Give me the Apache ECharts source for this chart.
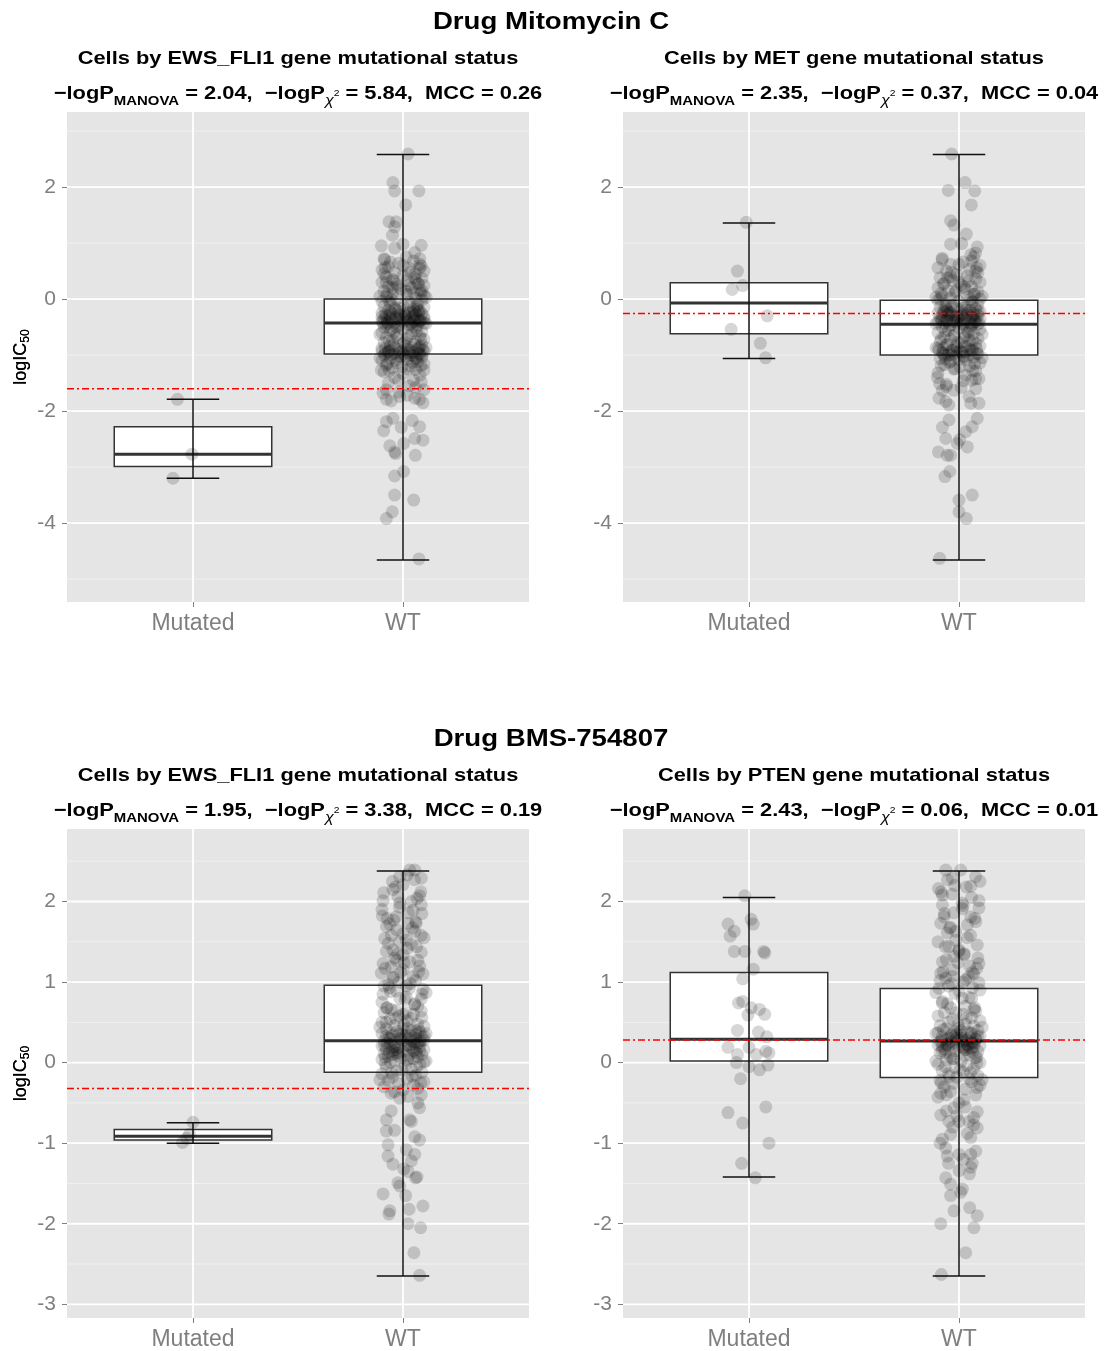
<!DOCTYPE html>
<html>
<head>
<meta charset="utf-8">
<script src="https://cdn.jsdelivr.net/npm/echarts@6/dist/echarts.min.js"></script>
<style>
html,body{margin:0;padding:0;background:#ffffff;}
#chart{width:1106px;height:1351px;}
</style>
</head>
<body>
<div id="chart"></div>
<script>
// ---------------- DATA ----------------
const categories = ['Mutated', 'WT'];
const drugTitles = ['Drug Mitomycin C', 'Drug BMS-754807'];
const panelGenes = ['EWS_FLI1', 'MET', 'EWS_FLI1', 'PTEN'];
const statManova = ['2.04', '2.35', '1.95', '2.43'];
const statChi = ['5.84', '0.37', '3.38', '0.06'];
const statMcc = ['0.26', '0.04', '0.19', '0.01'];

const yTicksTop = [-4, -2, 0, 2];
const yMinorTop = [-5, -3, -1, 1, 3];
const yTicksBottom = [-3, -2, -1, 0, 1, 2];
const yMinorBottom = [-2.5, -1.5, -0.5, 0.5, 1.5, 2.5];
const yRangeTop = [-5.41, 3.34];
const yRangeBottom = [-3.17, 2.90];

const refLines = [-1.60, -0.26, -0.32, 0.28];

// box stats per group: [min, q1, median, q3, max]  (Mutated, WT)
const boxTL = [[-3.20, -2.99, -2.77, -2.28, -1.79], [-4.66, -0.98, -0.43, 0.00, 2.58]];
const boxTR = [[-1.06, -0.62, -0.07, 0.29, 1.36], [-4.66, -1.00, -0.45, -0.02, 2.58]];
const boxBL = [[-1.00, -0.96, -0.915, -0.83, -0.745], [-2.65, -0.12, 0.27, 0.96, 2.38]];
const boxBR = [[-1.42, 0.02, 0.29, 1.12, 2.05], [-2.65, -0.185, 0.267, 0.92, 2.38]];

// points: [jitter offset, logIC50]
const ptsTLMut = [[-0.074, -1.79], [-0.005, -2.77], [-0.095, -3.20]];
const ptsTLWT = [
[0.024,2.59],[-0.048,2.08],[-0.04,1.93],[0.076,1.93],[0.013,1.68],[-0.067,1.38],[-0.032,1.38],[-0.04,1.29],[-0.05,1.14],[-0.103,0.95],
[0.0,0.98],[-0.04,0.91],[0.087,0.96],[0.056,0.83],[0.016,0.75],[-0.087,0.70],[0.087,0.59],[0.079,0.55],
[-0.09,0.72],[0.05,0.68],[-0.02,0.64],[0.08,0.62],[-0.07,0.58],[0.03,0.55],[-0.1,0.52],[0.1,0.5],[-0.04,0.47],[0.06,0.45],
[0.0,0.42],[-0.08,0.4],[0.09,0.37],[-0.05,0.35],[0.02,0.33],[-0.1,0.3],[0.07,0.28],[-0.03,0.26],[0.1,0.24],[-0.07,0.22],
[0.04,0.2],[-0.01,0.18],[0.08,0.16],[-0.09,0.14],[0.05,0.12],[-0.05,0.1],[0.02,0.08],[0.1,0.06],[-0.08,0.04],[0.06,0.02],
[-0.03,0.0],[0.09,-0.02],[-0.1,-0.04],[0.03,-0.06],[-0.06,-0.08],[0.07,-0.1],[0.0,-0.12],[-0.09,-0.13],[0.1,-0.15],[-0.04,-0.16],
[0.05,-0.18],[-0.07,-0.2],[0.08,-0.21],[-0.02,-0.22],[0.03,-0.24],[-0.1,-0.25],[0.09,-0.26],[-0.05,-0.27],[0.06,-0.28],[0.01,-0.29],
[-0.08,-0.3],[0.1,-0.31],[-0.03,-0.32],[0.04,-0.33],[-0.06,-0.34],[0.07,-0.35],[-0.09,-0.36],[0.02,-0.37],[0.08,-0.38],[-0.01,-0.39],
[-0.1,-0.4],[0.05,-0.41],[-0.04,-0.42],[0.1,-0.43],[-0.07,-0.44],[0.03,-0.46],[0.07,-0.47],[-0.02,-0.48],[-0.09,-0.5],[0.06,-0.52],
[0.0,-0.54],[-0.06,-0.56],[0.09,-0.58],[-0.1,-0.6],[0.04,-0.62],[-0.03,-0.64],[0.08,-0.66],[-0.08,-0.68],[0.02,-0.7],[0.1,-0.72],
[-0.05,-0.74],[0.06,-0.76],[-0.09,-0.78],[0.0,-0.8],[0.09,-0.82],[-0.06,-0.84],[0.04,-0.86],[-0.1,-0.88],[0.07,-0.9],[-0.02,-0.91],
[0.1,-0.93],[-0.07,-0.94],[0.03,-0.96],[-0.04,-0.97],[0.08,-0.98],[-0.09,-1.0],[0.05,-1.01],[-0.01,-1.03],[0.09,-1.04],[-0.06,-1.06],
[0.02,-1.08],[-0.1,-1.1],[0.07,-1.12],[-0.03,-1.14],[0.1,-1.16],[-0.08,-1.18],[0.04,-1.2],[-0.05,-1.23],[0.06,-1.26],[-0.09,-1.3],
[0.0,-1.33],[0.08,-1.36],[-0.04,-1.4],[0.05,-1.45],[-0.07,-1.5],[0.03,-1.55],[0.1,-1.62],[-0.02,-1.66],
[-0.06,-0.23],[0.05,-0.3],[-0.02,-0.35],[0.08,-0.4],[-0.08,-0.45],[0.01,-0.26],[0.1,-0.36],[-0.1,-0.32],[0.04,-0.44],[-0.05,-0.38],
[0.07,-0.19],[-0.03,-0.5],[0.02,-0.9],[-0.07,-0.95],[0.09,-1.0],[-0.04,-0.87],[0.06,-1.05],[-0.1,-0.93],[0.0,-0.98],[0.08,-0.85],
[-0.08,0.3],[0.06,0.35],[-0.05,0.2],[0.03,0.25],[-0.09,0.45],[0.09,0.15],
[-0.11,0.05],[0.085,0.1],[-0.065,-0.05],[0.035,-0.11],[-0.015,-0.17],[0.075,-0.23],[-0.085,-0.27],[0.015,-0.31],[-0.035,-0.36],[0.055,-0.39],
[-0.075,-0.41],[0.11,-0.44],[-0.005,-0.45],[0.045,-0.49],[-0.055,-0.53],[0.065,-0.57],[-0.11,-0.63],[0.025,-0.65],[-0.025,-0.69],[0.085,-0.71],
[-0.065,-0.75],[0.005,-0.77],[0.055,-0.81],[-0.045,-0.83],[0.11,-0.87],[-0.085,-0.89],[0.035,-0.92],[-0.015,-0.95],[0.075,-0.97],[-0.055,-0.99],
[0.015,-1.02],[-0.11,-1.05],[0.065,-1.07],[-0.035,-1.09],[0.045,-1.13],[-0.075,-1.15],[0.085,-1.19],[-0.005,-1.21],[0.025,-1.25],[-0.065,-1.28],
[0.055,0.38],[-0.045,0.32],[0.075,0.27],[-0.025,0.22],[0.015,0.14],[-0.075,0.09],[0.11,0.03],[-0.055,-0.01],[0.035,0.48],[-0.085,0.56],
[0.065,-0.13],[-0.035,-0.19],[0.045,-0.25],[-0.065,-0.29],[0.005,-0.33],[0.085,-0.37],[-0.095,-0.43],[0.025,-0.4],[-0.015,-0.28],[0.055,-0.21],
[-0.045,-0.6],[0.075,-0.88],[-0.005,-0.93],[0.035,-1.0],[-0.085,-0.97],[0.095,-0.91],[-0.025,-1.02],[0.015,-0.84],[-0.065,-0.92],[0.045,-0.95],
[0.0,0.6],[-0.06,0.66],[0.08,0.72],[-0.02,-1.45],[0.06,-1.58],[-0.08,-1.62],[0.02,-1.72],
[0.1,-1.27],[-0.103,-1.27],[0.087,-1.48],[-0.095,-1.68],[-0.079,-1.79],[-0.056,-1.82],[0.056,-1.77],[0.079,-1.79],[0.095,-1.85],[-0.016,-1.74],
[-0.048,-2.13],[-0.079,-2.19],[0.044,-2.17],[0.079,-2.28],[-0.092,-2.35],[-0.008,-2.29],[0.056,-2.49],[0.095,-2.52],[0.003,-2.58],[-0.063,-2.62],
[-0.035,-2.76],[-0.04,-2.73],[0.059,-2.79],[0.003,-3.08],[-0.04,-3.16],[-0.04,-3.5],[0.051,-3.59],[-0.051,-3.80],[-0.079,-3.92],[0.076,-4.64]
];

const ptsTRMut = [[-0.013,1.37],[-0.055,0.50],[-0.08,0.17],[-0.03,0.24],[0.087,-0.30],[-0.085,-0.54],[0.054,-0.79],[0.079,-1.05]];
const ptsTRWT = [
[-0.035,2.59],[0.029,2.08],[-0.051,1.94],[0.075,1.93],[0.059,1.68],[-0.04,1.40],[-0.024,1.32],[0.035,1.16],[-0.04,0.98],[0.013,0.99],
[0.087,0.93],[0.079,0.82],[0.056,0.79],
[0.07,0.75],[-0.08,0.7],[0.02,0.66],[-0.04,0.62],[0.1,0.6],[-0.1,0.56],[0.05,0.53],[-0.06,0.5],[0.09,0.47],[-0.01,0.44],
[0.04,0.41],[-0.09,0.38],[0.08,0.36],[-0.03,0.33],[0.1,0.3],[-0.07,0.28],[0.01,0.25],[0.06,0.22],[-0.1,0.2],[0.03,0.18],
[-0.05,0.15],[0.09,0.13],[-0.02,0.11],[0.07,0.08],[-0.08,0.06],[0.04,0.04],[-0.04,0.02],[0.1,0.0],[-0.1,-0.02],[0.0,-0.04],
[0.06,-0.06],[-0.06,-0.08],[0.09,-0.1],[-0.03,-0.12],[0.03,-0.14],[-0.09,-0.15],[0.08,-0.17],[-0.01,-0.18],[0.05,-0.2],[-0.07,-0.21],
[0.1,-0.22],[-0.04,-0.23],[0.02,-0.24],[-0.1,-0.25],[0.07,-0.26],[-0.05,-0.27],[0.04,-0.28],[-0.08,-0.29],[0.09,-0.3],[0.0,-0.31],
[-0.02,-0.32],[0.06,-0.33],[-0.09,-0.34],[0.03,-0.35],[0.1,-0.36],[-0.06,-0.37],[0.01,-0.38],[-0.03,-0.39],[0.08,-0.4],[-0.1,-0.41],
[0.05,-0.42],[-0.07,-0.43],[0.02,-0.44],[0.09,-0.45],[-0.04,-0.46],[0.06,-0.48],[-0.08,-0.5],[0.0,-0.52],[0.1,-0.54],[-0.05,-0.56],
[0.04,-0.58],[-0.1,-0.6],[0.07,-0.62],[-0.02,-0.64],[0.03,-0.66],[-0.07,-0.68],[0.09,-0.7],[-0.04,-0.72],[0.05,-0.74],[-0.09,-0.76],
[0.01,-0.78],[0.08,-0.8],[-0.06,-0.82],[0.1,-0.84],[-0.01,-0.86],[-0.1,-0.88],[0.06,-0.9],[-0.03,-0.92],[0.03,-0.94],[-0.08,-0.96],
[0.09,-0.98],[-0.05,-1.0],[0.02,-1.02],[0.07,-1.04],[-0.09,-1.06],[0.0,-1.08],[-0.04,-1.11],[0.1,-1.14],[-0.07,-1.17],[0.05,-1.2],
[-0.02,-1.24],[0.08,-1.28],[-0.1,-1.32],[0.03,-1.36],[0.06,-1.45],[-0.06,-1.52],[0.01,-1.58],
[-0.05,-0.3],[0.07,-0.35],[-0.01,-0.42],[0.04,-0.25],[-0.08,-0.38],[0.09,-0.22],[-0.03,-0.28],[0.02,-0.47],[-0.06,-0.18],[0.06,-0.45],
[-0.09,0.0],[0.0,0.3],[0.08,0.5],[-0.04,0.4],[0.05,-0.9],[-0.07,-1.0],[0.03,-0.85],[-0.01,-0.95],
[0.11,0.05],[-0.085,0.1],[0.065,-0.05],[-0.035,-0.11],[0.015,-0.17],[-0.075,-0.23],[0.085,-0.27],[-0.015,-0.31],[0.035,-0.36],[-0.055,-0.39],
[0.075,-0.41],[-0.11,-0.44],[0.005,-0.45],[-0.045,-0.49],[0.055,-0.53],[-0.065,-0.57],[0.11,-0.63],[-0.025,-0.65],[0.025,-0.69],[-0.085,-0.71],
[0.065,-0.75],[-0.005,-0.77],[-0.055,-0.81],[0.045,-0.83],[-0.11,-0.87],[0.085,-0.89],[-0.035,-0.92],[0.015,-0.95],[-0.075,-0.97],[0.055,-0.99],
[-0.015,-1.02],[0.11,-1.05],[-0.065,-1.07],[0.035,-1.09],[-0.045,-1.13],[0.075,-1.15],[-0.085,-1.19],[0.005,-1.21],[-0.025,-1.25],[0.065,-1.28],
[-0.055,0.38],[0.045,0.32],[-0.075,0.27],[0.025,0.22],[-0.015,0.14],[0.075,0.09],[-0.11,0.03],[0.055,-0.01],[-0.035,0.48],[0.085,0.56],
[-0.065,-0.13],[0.035,-0.19],[-0.045,-0.25],[0.065,-0.29],[-0.005,-0.33],[-0.085,-0.37],[0.095,-0.43],[-0.025,-0.4],[0.015,-0.28],[-0.055,-0.21],
[0.045,-0.6],[-0.075,-0.88],[0.005,-0.93],[-0.035,-1.0],[0.085,-0.97],[-0.095,-0.91],[0.025,-1.02],[-0.015,-0.84],[0.065,-0.92],[-0.045,-0.95],
[0.0,0.62],[0.06,0.68],[-0.08,0.73],[0.02,-1.46],[-0.06,-1.56],[0.08,-1.6],
[-0.103,-1.40],[-0.092,-1.51],[0.095,-1.42],[0.079,-1.43],[-0.079,-1.63],[-0.024,-1.63],[-0.095,-1.77],[-0.063,-1.83],[-0.048,-1.89],[0.048,-1.74],
[0.056,-1.86],[0.095,-1.86],[0.087,-2.13],[-0.048,-2.16],[-0.079,-2.29],[0.063,-2.28],[0.032,-2.37],[-0.063,-2.49],[0.003,-2.51],[-0.008,-2.58],
[0.04,-2.64],[-0.098,-2.73],[-0.056,-2.79],[-0.04,-2.79],[-0.044,-3.08],[-0.067,-3.17],[0.063,-3.50],[0.0,-3.59],[0.0,-3.80],[0.035,-3.92],[-0.092,-4.63]
];

const ptsBLMut = [[0.0,-0.74],[-0.017,-0.89],[-0.03,-0.94],[-0.05,-0.99]];
const ptsBLWT = [
[0.032,2.39],[0.056,2.39],[-0.016,2.31],[0.087,2.29],[0.0,2.21],[-0.092,2.11],[-0.048,2.15],[-0.024,2.06],[0.079,2.07],[0.067,2.04],
[0.087,1.96],[-0.016,1.93],[0.048,1.89],[-0.098,1.82],[-0.032,1.81],[-0.063,1.72],[-0.079,1.69],[-0.044,1.77],[0.024,1.73],[0.063,1.73],
[0.056,1.63],[0.087,1.58],[-0.087,1.54],[-0.016,1.50],[0.04,1.47],[-0.048,1.40],[-0.079,1.38],[0.087,1.37],[0.0,1.34],[-0.032,1.27],
[0.071,1.27],[0.032,1.25],[-0.095,1.23],[-0.056,1.19],[0.0,1.15],[-0.103,1.11],[0.095,1.10],[0.048,1.07],[-0.048,1.05],[-0.071,0.97],
[0.016,0.95],[0.095,0.91],[-0.095,0.85],[-0.032,0.89],[0.016,0.81],[0.087,0.79],[0.056,0.72],[-0.079,0.68],[-0.056,0.66],[0.0,0.60],[0.087,0.64],
[-0.09,0.62],[0.05,0.6],[-0.02,0.58],[0.09,0.56],[-0.06,0.54],[0.02,0.52],[-0.1,0.5],[0.07,0.48],[-0.04,0.46],[0.1,0.45],
[0.0,0.43],[-0.08,0.42],[0.04,0.4],[-0.03,0.39],[0.08,0.38],[-0.1,0.36],[0.06,0.35],[-0.05,0.34],[0.01,0.33],[0.09,0.32],
[-0.07,0.31],[0.03,0.3],[-0.01,0.29],[0.1,0.28],[-0.09,0.27],[0.05,0.26],[-0.04,0.25],[0.07,0.24],[-0.06,0.23],[0.02,0.22],
[-0.1,0.21],[0.08,0.2],[-0.02,0.19],[0.04,0.18],[-0.08,0.17],[0.1,0.16],[-0.05,0.15],[0.0,0.14],[0.06,0.13],[-0.03,0.12],
[-0.09,0.11],[0.09,0.1],[0.03,0.09],[-0.07,0.08],[0.07,0.07],[-0.01,0.06],[0.05,0.05],[-0.1,0.04],[0.02,0.03],[-0.04,0.02],
[0.1,0.01],[-0.06,0.0],[0.08,-0.02],[0.01,-0.04],[-0.08,-0.06],[0.04,-0.08],[-0.03,-0.1],[0.09,-0.12],[-0.1,-0.14],[0.06,-0.16],
[-0.05,-0.18],[0.02,-0.2],[-0.07,-0.22],[0.1,-0.24],[-0.02,-0.26],[0.05,-0.28],[-0.09,-0.3],[0.07,-0.32],[0.0,-0.34],[-0.04,-0.36],
[0.03,0.2],[-0.06,0.3],[0.08,0.25],[-0.02,0.35],[0.05,0.15],[-0.09,0.22],[0.0,0.28],[0.06,0.4],[-0.05,0.1],[0.1,0.33],
[-0.08,0.5],[0.04,0.55],[-0.03,0.65],[0.07,0.7],[-0.1,0.75],[0.01,0.78],[0.09,0.85],[-0.06,0.88],[0.03,0.92],[-0.02,1.0],
[0.06,1.02],[-0.09,0.95],[0.08,1.2],[-0.04,1.3],[0.02,1.42],[-0.07,1.48],[0.1,1.55],[0.0,1.6],[-0.03,1.65],[0.06,1.75],
[-0.1,1.9],[0.04,2.0],[-0.05,2.25],[0.02,2.33],[0.09,1.85],[-0.01,1.12],
[0.11,0.02],[-0.085,0.07],[0.065,0.12],[-0.035,0.16],[0.015,0.21],[-0.075,0.24],[0.085,0.27],[-0.015,0.3],[0.035,0.34],[-0.055,0.37],
[0.075,0.41],[-0.11,0.44],[0.005,0.47],[-0.045,0.19],[0.055,0.23],[-0.065,0.13],[0.11,0.36],[-0.025,0.09],[0.025,0.05],[-0.085,-0.01],
[0.065,-0.05],[-0.005,-0.09],[-0.055,-0.13],[0.045,-0.17],[-0.11,-0.21],[0.085,-0.25],[-0.035,0.55],[0.015,0.62],[-0.075,0.68],[0.055,0.73],
[-0.015,0.8],[0.11,0.87],[-0.065,0.93],[0.035,0.98],[-0.045,1.06],[0.075,1.13],[-0.085,1.17],[0.005,1.24],[-0.025,1.35],[0.065,1.44],
[-0.055,1.58],[0.045,1.67],[-0.075,1.79],[0.025,1.86],[-0.015,1.98],[0.085,2.12],[-0.035,2.18],[0.055,2.27],[-0.095,2.01],[0.015,1.52],
[0.0,0.35],[0.04,0.27],[-0.04,0.2],[0.08,0.15],[-0.08,0.33],[0.02,0.42],[-0.02,0.12],[0.06,0.3],
[0.024,-0.42],[-0.056,-0.38],[-0.016,-0.44],[0.087,-0.40],[0.071,-0.50],[0.079,-0.56],[-0.056,-0.60],[-0.079,-0.71],[0.032,-0.71],[0.04,-0.73],
[-0.04,-0.84],[-0.079,-0.85],[0.056,-0.92],[0.079,-0.96],[-0.071,-1.02],[0.016,-1.08],[0.056,-1.14],[-0.071,-1.16],[-0.048,-1.26],[0.04,-1.22],
[0.003,-1.32],[0.024,-1.35],[0.06,-1.43],[0.067,-1.42],[-0.016,-1.53],[-0.024,-1.49],[0.013,-1.65],[-0.095,-1.63],[0.029,-1.82],[0.095,-1.78],
[-0.063,-1.84],[-0.067,-1.88],[0.024,-2.00],[0.084,-2.05],[0.052,-2.36],[0.079,-2.64]
];

const ptsBRMut = [
[-0.02,2.07],[-0.10,1.72],[-0.07,1.63],[-0.09,1.57],[0.01,1.78],[0.02,1.72],[-0.07,1.38],[-0.02,1.38],[0.07,1.38],[0.075,1.36],
[0.02,1.16],[-0.03,1.04],[-0.05,0.74],[-0.03,0.76],[0.01,0.68],[0.05,0.66],[0.075,0.60],[-0.005,0.59],[-0.055,0.40],[0.045,0.38],
[0.085,0.32],[-0.10,0.19],[-0.055,0.10],[0.0,0.19],[0.035,0.10],[0.08,0.14],[0.095,0.12],[-0.06,0.0],[0.0,-0.05],[0.05,-0.09],
[0.09,-0.03],[-0.04,-0.20],[0.08,-0.55],[-0.10,-0.62],[-0.03,-0.75],[0.095,-1.0],[-0.035,-1.25],[0.03,-1.43]
];
const ptsBRWT = [
[-0.063,2.39],[0.008,2.39],[0.079,2.31],[-0.032,2.29],[-0.098,2.16],[0.056,2.19],[-0.079,2.08],[-0.032,2.09],[0.095,1.92],[0.016,1.91],
[-0.079,1.96],[0.056,1.81],[-0.071,1.81],[-0.087,1.73],[0.04,1.71],[-0.016,1.63],[-0.056,1.61],[0.087,1.46],[-0.048,1.44],[0.0,1.38],
[-0.079,1.25],[0.095,1.23],[-0.024,1.32],[0.024,1.34],[-0.087,1.11],[0.063,1.12],[-0.032,1.07],[0.032,1.03],[-0.063,1.05],[0.095,0.99],
[-0.095,0.92],[0.0,0.89],[0.048,0.81],[0.071,0.66],[-0.079,0.76],[-0.04,0.68],
[0.08,0.64],[-0.07,0.62],[0.02,0.6],[-0.1,0.58],[0.06,0.56],[-0.03,0.54],[0.1,0.52],[-0.05,0.5],[0.03,0.48],[-0.09,0.46],
[0.07,0.45],[0.0,0.43],[-0.06,0.42],[0.09,0.4],[-0.02,0.39],[0.04,0.38],[-0.1,0.37],[0.06,0.36],[-0.04,0.35],[0.01,0.34],
[0.1,0.33],[-0.08,0.32],[0.05,0.31],[-0.01,0.3],[0.08,0.29],[-0.06,0.28],[0.02,0.27],[-0.09,0.26],[0.07,0.25],[-0.03,0.24],
[0.04,0.23],[-0.1,0.22],[0.1,0.21],[-0.05,0.2],[0.0,0.19],[0.06,0.18],[-0.07,0.17],[0.03,0.16],[-0.02,0.15],[0.09,0.14],
[-0.09,0.12],[0.05,0.1],[-0.04,0.08],[0.08,0.06],[-0.06,0.04],[0.01,0.02],[0.1,0.0],[-0.1,-0.02],[0.04,-0.04],[-0.02,-0.06],
[0.07,-0.08],[-0.08,-0.1],[0.02,-0.12],[-0.05,-0.14],[0.09,-0.16],[-0.01,-0.18],[0.05,-0.2],[-0.09,-0.22],[0.06,-0.24],[-0.03,-0.26],
[0.1,-0.28],[-0.07,-0.3],[0.03,-0.33],[-0.04,-0.36],[0.08,-0.4],[-0.1,-0.43],
[0.03,0.7],[-0.08,0.74],[0.06,0.8],[-0.02,0.86],[0.1,0.9],[-0.05,0.95],[0.02,1.0],[-0.09,1.02],[0.07,1.1],[-0.03,1.15],
[0.05,1.2],[-0.06,1.28],[0.09,1.3],[0.0,1.4],[-0.1,1.5],[0.04,1.55],[-0.04,1.68],[0.08,1.75],[-0.07,1.85],[0.02,1.95],
[0.06,2.05],[-0.02,2.2],[0.1,2.25],
[0.0,-0.5],[-0.06,-0.6],[0.07,-0.68],[-0.03,-0.8],[0.04,-0.88],[-0.09,-1.0],[0.08,-1.1],[0.02,-1.2],[-0.05,-1.25],[0.05,-1.38],
[0.02,0.25],[-0.05,0.3],[0.07,0.2],[-0.01,0.35],[0.04,0.28],[-0.08,0.15],[0.09,0.32],[-0.03,0.05],[0.01,0.4],[-0.06,0.22],
[-0.11,0.02],[0.085,0.07],[-0.065,0.12],[0.035,0.16],[-0.015,0.21],[0.075,0.24],[-0.085,0.27],[0.015,0.3],[-0.035,0.34],[0.055,0.37],
[-0.075,0.41],[0.11,0.44],[-0.005,0.47],[0.045,0.19],[-0.055,0.23],[0.065,0.13],[-0.11,0.36],[0.025,0.09],[-0.025,0.05],[0.085,-0.01],
[-0.065,-0.05],[0.005,-0.09],[0.055,-0.13],[-0.045,-0.17],[0.11,-0.21],[-0.085,-0.25],[0.035,0.55],[-0.015,0.62],[0.075,0.68],[-0.055,0.73],
[0.015,0.8],[-0.11,0.87],[0.065,0.93],[-0.035,0.98],[0.045,1.06],[-0.075,1.13],[0.085,1.17],[-0.005,1.24],[0.025,1.35],[-0.065,1.44],
[0.055,1.58],[-0.045,1.67],[0.075,1.79],[-0.025,1.86],[0.015,1.98],[-0.085,2.12],[0.035,2.18],[-0.055,2.27],[0.095,2.01],[-0.015,1.52],
[0.0,0.28],[0.04,0.22],[-0.04,0.26],[0.08,0.3],[-0.08,0.2],[0.02,0.18],[-0.02,0.32],[0.06,0.25],[-0.06,-0.4],[0.03,-0.55],[-0.01,-0.66],[0.07,-0.77],
[0.087,-0.31],[-0.087,-0.38],[0.024,-0.46],[-0.024,-0.56],[0.087,-0.61],[-0.087,-0.65],[0.0,-0.73],[0.048,-0.73],[-0.048,-0.73],[0.087,-0.81],
[-0.04,-0.89],[0.056,-0.93],[-0.079,-0.95],[-0.063,-1.06],[0.0,-1.14],[0.056,-1.14],[-0.056,-1.16],[0.063,-1.25],[0.056,-1.30],[0.0,-1.34],
[-0.063,-1.43],[-0.04,-1.51],[0.016,-1.57],[0.008,-1.61],[-0.04,-1.65],[0.051,-1.80],[-0.024,-1.84],[0.087,-1.90],[-0.087,-2.00],[0.071,-2.05],
[0.032,-2.36],[-0.084,-2.63]
];

// ---------------- LAYOUT / STYLE ----------------
const FONT = '"Liberation Sans", Arial, Helvetica, sans-serif';
const GREY_TXT = '#7F7F7F';
const panels = [
  { grid: { left: 67, top: 112, width: 462, height: 490 }, yr: yRangeTop, ticks: yTicksTop, minor: yMinorTop, box: boxTL, mut: ptsTLMut, wt: ptsTLWT },
  { grid: { left: 623, top: 112, width: 462, height: 490 }, yr: yRangeTop, ticks: yTicksTop, minor: yMinorTop, box: boxTR, mut: ptsTRMut, wt: ptsTRWT },
  { grid: { left: 67, top: 829, width: 462, height: 489 }, yr: yRangeBottom, ticks: yTicksBottom, minor: yMinorBottom, box: boxBL, mut: ptsBLMut, wt: ptsBLWT },
  { grid: { left: 623, top: 829, width: 462, height: 489 }, yr: yRangeBottom, ticks: yTicksBottom, minor: yMinorBottom, box: boxBR, mut: ptsBRMut, wt: ptsBRWT }
];
const catPos = categories.map((c, i) => i + 1);

const grids = [], xAxes = [], yAxes = [], series = [], graphics = [];

function renderGridLines(params, api) {
  const cs = params.coordSys;
  const kind = api.value(2);
  if (kind === 2) {
    const px = api.coord([api.value(0), 0])[0];
    return { type: 'line', shape: { x1: px, y1: cs.y, x2: px, y2: cs.y + cs.height }, style: { stroke: '#FFFFFF', lineWidth: 1.8 } };
  }
  const py = api.coord([1, api.value(1)])[1];
  return { type: 'line', shape: { x1: cs.x, y1: py, x2: cs.x + cs.width, y2: py },
    style: { stroke: kind === 0 ? '#FFFFFF' : '#F2F2F2', lineWidth: kind === 0 ? 1.8 : 0.9 } };
}
function renderBox(params, api) {
  const x = api.value(0);
  const mn = api.value(1), q1 = api.value(2), md = api.value(3), q3 = api.value(4), mx = api.value(5);
  const bw = api.size([0.75, 0])[0];
  const cw = api.size([0.25, 0])[0];
  const pQ1 = api.coord([x, q1]), pQ3 = api.coord([x, q3]), pMd = api.coord([x, md]);
  const pMn = api.coord([x, mn]), pMx = api.coord([x, mx]);
  const cx = pQ1[0];
  return { type: 'group', children: [
    { type: 'rect', shape: { x: cx - bw / 2, y: pQ3[1], width: bw, height: pQ1[1] - pQ3[1] }, style: { fill: '#FFFFFF', stroke: '#333333', lineWidth: 1.5 } },
    { type: 'line', shape: { x1: cx - bw / 2, y1: pMd[1], x2: cx + bw / 2, y2: pMd[1] }, style: { stroke: '#333333', lineWidth: 3 } },
    { type: 'line', shape: { x1: cx, y1: pMx[1], x2: cx, y2: pMn[1] }, style: { stroke: '#111111', lineWidth: 1.5 } },
    { type: 'line', shape: { x1: cx - cw / 2, y1: pMx[1], x2: cx + cw / 2, y2: pMx[1] }, style: { stroke: '#111111', lineWidth: 1.5 } },
    { type: 'line', shape: { x1: cx - cw / 2, y1: pMn[1], x2: cx + cw / 2, y2: pMn[1] }, style: { stroke: '#111111', lineWidth: 1.5 } }
  ] };
}
function renderRef(params, api) {
  const cs = params.coordSys;
  const py = api.coord([1, api.value(1)])[1];
  return { type: 'line', shape: { x1: cs.x, y1: py, x2: cs.x + cs.width, y2: py },
    style: { stroke: '#FF0000', lineWidth: 1.5, lineDash: [7, 3, 2, 3] } };
}

panels.forEach((p, i) => {
  grids.push(Object.assign({ show: true, backgroundColor: '#E5E5E5', borderWidth: 0, containLabel: false }, p.grid));
  xAxes.push({
    gridIndex: i, type: 'value', min: 0.4, max: 2.6,
    axisLine: { show: false, onZero: false },
    splitLine: { show: false },
    axisTick: { show: true, customValues: catPos, length: 5, lineStyle: { color: GREY_TXT, width: 1 } },
    axisLabel: { show: true, customValues: catPos, formatter: v => categories[Math.round(v) - 1] || '',
      color: GREY_TXT, fontSize: 23, fontFamily: FONT, margin: 10 }
  });
  yAxes.push({
    gridIndex: i, type: 'value', min: p.yr[0], max: p.yr[1],
    axisLine: { show: false, onZero: false },
    splitLine: { show: false },
    axisTick: { show: true, customValues: p.ticks, length: 5, lineStyle: { color: GREY_TXT, width: 1 } },
    axisLabel: { show: true, customValues: p.ticks, color: GREY_TXT, fontSize: 21, fontFamily: FONT, margin: 11,
      formatter: v => String(v) }
  });
  const gl = [].concat(p.ticks.map(v => [1, v, 0]), p.minor.map(v => [1, v, 1]), catPos.map(c => [c, 0, 2]));
  series.push({ type: 'custom', xAxisIndex: i, yAxisIndex: i, z: 1, silent: true, renderItem: renderGridLines, data: gl, encode: { x: 0, y: 1 } });
  series.push({ type: 'custom', xAxisIndex: i, yAxisIndex: i, z: 2, silent: true, renderItem: renderBox,
    data: p.box.map((b, k) => [catPos[k]].concat(b)), encode: { x: 0, y: [1, 2, 3, 4, 5] } });
  [p.mut, p.wt].forEach((pts, k) => {
    series.push({ type: 'scatter', xAxisIndex: i, yAxisIndex: i, z: 3, silent: true, symbol: 'circle', symbolSize: 13,
      itemStyle: { color: 'rgba(0,0,0,0.2)', borderWidth: 0 },
      data: pts.map(q => [catPos[k] + q[0], q[1]]) });
  });
  series.push({ type: 'custom', xAxisIndex: i, yAxisIndex: i, z: 4, silent: true, renderItem: renderRef, data: [[1, refLines[i]]], encode: { x: 0, y: 1 } });

  // titles for the panel
  const cx = p.grid.left + p.grid.width / 2;
  const topBase = p.grid.top;
  graphics.push({ type: 'text', x: cx, y: topBase - 53, scaleX: 1.15, silent: true,
    style: { text: 'Cells by ' + panelGenes[i] + ' gene mutational status', fontSize: 19, fontWeight: 'bold', fontFamily: FONT,
      fill: '#000', align: 'center', verticalAlign: 'middle' } });
  graphics.push({ type: 'text', x: cx, y: topBase - 18, scaleX: 1.15, silent: true,
    style: {
      text: '{m|\u2212logP}{s|MANOVA}{m| = ' + statManova[i] + ',  \u2212logP}{c|\u03c7}{p|2}{m| = ' + statChi[i] + ',  MCC = ' + statMcc[i] + '}',
      align: 'center', verticalAlign: 'middle',
      rich: {
        m: { fontSize: 19, fontWeight: 'bold', fontFamily: FONT, fill: '#000', lineHeight: 28 },
        s: { fontSize: 13, fontWeight: 'bold', fontFamily: FONT, fill: '#000', lineHeight: 14, verticalAlign: 'bottom' },
        c: { fontSize: 14, fontStyle: 'italic', fontFamily: FONT, fill: '#000', lineHeight: 15, verticalAlign: 'bottom' },
        p: { fontSize: 9, fontFamily: FONT, fill: '#000', lineHeight: 10, verticalAlign: 'middle' }
      }
    } });
  graphics.push({ type: 'text', x: 21, y: p.grid.top + p.grid.height / 2, rotation: Math.PI / 2, silent: true,
    style: { text: '{a|logIC}{b|50}', align: 'center', verticalAlign: 'middle',
      rich: {
        a: { fontSize: 18, fontFamily: FONT, fill: '#000', lineHeight: 22 },
        b: { fontSize: 12, fontFamily: FONT, fill: '#000', lineHeight: 12, verticalAlign: 'bottom' }
      } } });
});

drugTitles.forEach((t, k) => {
  graphics.push({ type: 'text', x: 551, y: panels[k * 2].grid.top - 90, scaleX: 1.15, silent: true,
    style: { text: t, fontSize: 24, fontWeight: 'bold', fontFamily: FONT, fill: '#000', align: 'center', verticalAlign: 'middle' } });
});

const chart = echarts.init(document.getElementById('chart'), null, { renderer: 'canvas' });
chart.setOption({
  animation: false,
  backgroundColor: '#FFFFFF',
  textStyle: { fontFamily: FONT },
  grid: grids,
  xAxis: xAxes,
  yAxis: yAxes,
  series: series,
  graphic: graphics
});
</script>
</body>
</html>
